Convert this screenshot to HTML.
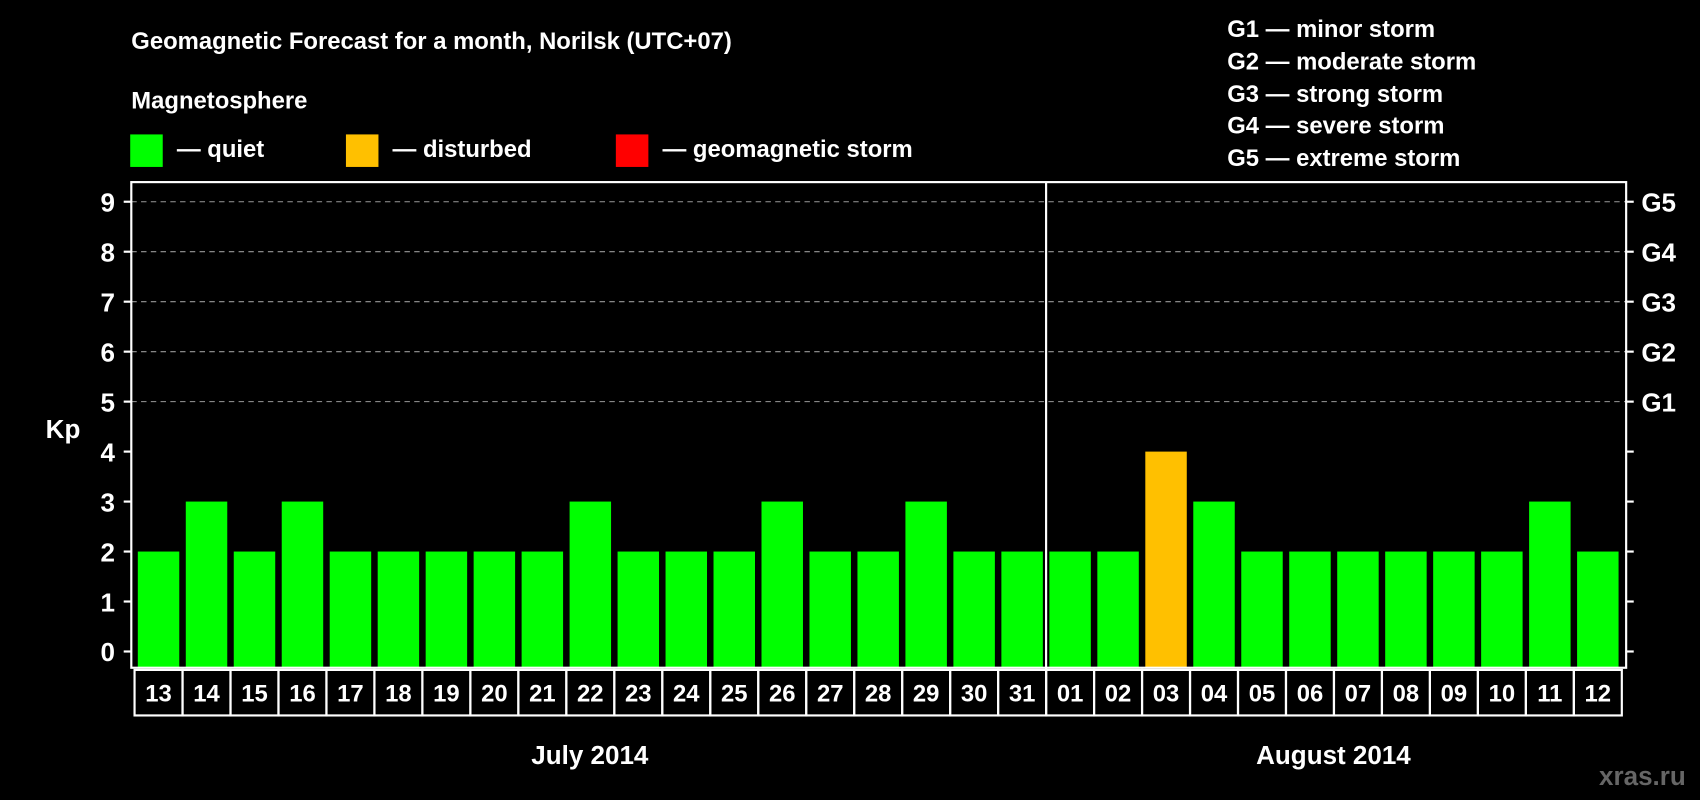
<!DOCTYPE html>
<html><head><meta charset="utf-8"><style>
html,body{margin:0;padding:0;background:#000;width:1700px;height:800px;overflow:hidden}
text{font-family:"Liberation Sans",sans-serif;font-weight:bold;fill:#fff}
</style></head><body>
<svg id="c" width="1700" height="800" viewBox="0 0 1568 738" xmlns="http://www.w3.org/2000/svg">
<rect width="1568" height="738" fill="#000"/>
<text x="121" y="45" font-size="22">Geomagnetic Forecast for a month, Norilsk (UTC+07)</text>
<text x="121" y="100" font-size="22">Magnetosphere</text>
<g>
<rect x="120" y="124" width="30" height="30" fill="#00ff00"/>
<text x="163" y="145" font-size="22">— quiet</text>
<rect x="319" y="124" width="30" height="30" fill="#ffc000"/>
<text x="362" y="145" font-size="22">— disturbed</text>
<rect x="568" y="124" width="30" height="30" fill="#ff0000"/>
<text x="611" y="145" font-size="22">— geomagnetic storm</text>
</g>
<g font-size="22">
<text x="1132" y="34" font-size="22">G1 — minor storm</text>
<text x="1132" y="64" font-size="22">G2 — moderate storm</text>
<text x="1132" y="94" font-size="22">G3 — strong storm</text>
<text x="1132" y="123" font-size="22">G4 — severe storm</text>
<text x="1132" y="153" font-size="22">G5 — extreme storm</text>
</g>
<text x="58" y="404" font-size="24" text-anchor="middle">Kp</text>
<text x="544" y="705" font-size="24" text-anchor="middle">July 2014</text>
<text x="1230" y="705" font-size="24" text-anchor="middle">August 2014</text>
<text x="1515" y="724" font-size="24" text-anchor="middle" style="fill:#666">xras.ru</text>
<g id="plot"></g>
</svg>
<script>
const days = ["13","14","15","16","17","18","19","20","21","22","23","24","25","26","27","28","29","30","31","01","02","03","04","05","06","07","08","09","10","11","12"];
const kpValues = [2,3,2,3,2,2,2,2,2,3,2,2,2,3,2,2,3,2,2,2,2,4,3,2,2,2,2,2,2,3,2];
const yTicks = [0,1,2,3,4,5,6,7,8,9];
const gLabels = ["G1","G2","G3","G4","G5"];
const gLevels = [5,6,7,8,9];
const NS="http://www.w3.org/2000/svg";
const g=document.getElementById('plot');
const L=121,R=1500,T=168,B=616,X0=124,X1=1496;
const slot=(X1-X0)/days.length;
const y=v=>601-v*46.1;
const x=i=>X0+i*slot;
function mk(t,a){const e=document.createElementNS(NS,t);for(const k in a)e.setAttribute(k,a[k]);g.appendChild(e);return e;}
gLevels.forEach((lv,i)=>{
 const l=mk('line',{x1:L,x2:R,y1:y(lv),y2:y(lv),stroke:'#999','stroke-dasharray':'5,4','stroke-width':1});
 
 
 const t=mk('text',{x:1514,y:y(lv)+9,'font-size':24});t.textContent=gLabels[i];
 
 
});
yTicks.forEach(v=>{
 const a=mk('line',{x1:114,x2:L,y1:y(v),y2:y(v),stroke:'#fff','stroke-width':2});
 
 
 const b=mk('line',{x1:R,x2:R+7,y1:y(v),y2:y(v),stroke:'#fff','stroke-width':2});
 
 
 const t=mk('text',{x:106,y:y(v)+9,'font-size':24,'text-anchor':'end'});t.textContent=v;
 
 
});
kpValues.forEach((v,i)=>{
 const r=mk('rect',{x:x(i)+3,y:y(v),width:slot-6,height:B-y(v),fill:v>=5?'#ff0000':(v>=4?'#ffc000':'#00ff00')});
 
 
 const c=mk('rect',{x:x(i),y:618,width:slot,height:42,fill:'none',stroke:'#fff','stroke-width':2});
 
 
 const t=mk('text',{x:x(i)+slot/2,y:647,'font-size':22,'text-anchor':'middle'});t.textContent=days[i];
 
 
});
const fr=mk('rect',{x:L,y:T,width:R-L,height:B-T,fill:'none',stroke:'#fff','stroke-width':2});


const sep=days.indexOf('01');
const d=mk('line',{x1:x(sep),x2:x(sep),y1:T,y2:660,stroke:'#fff','stroke-width':2});


</script>
</body></html>
